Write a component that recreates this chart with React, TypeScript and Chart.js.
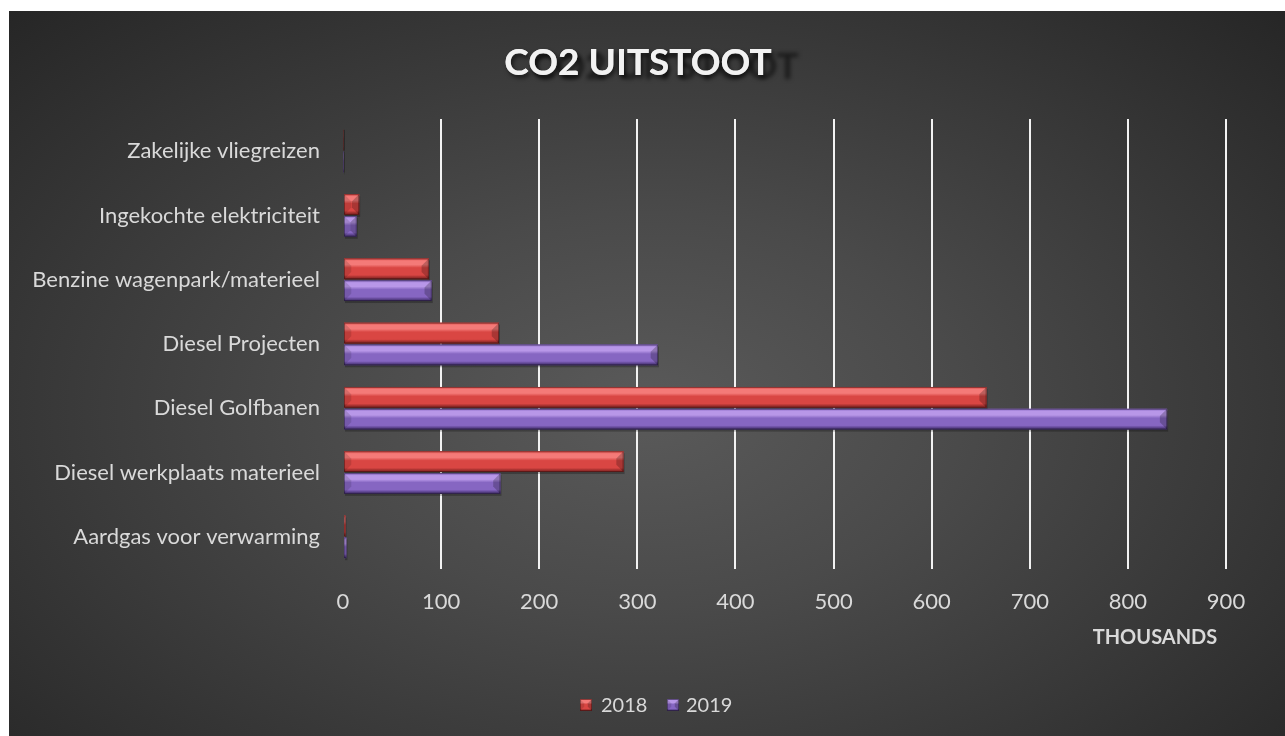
import React, { useEffect, useRef } from "react";
import { Chart, registerables } from "chart.js";

Chart.register(...registerables);

const categories = [
  "Zakelijke vliegreizen",
  "Ingekochte elektriciteit",
  "Benzine wagenpark/materieel",
  "Diesel Projecten",
  "Diesel Golfbanen",
  "Diesel werkplaats materieel",
  "Aardgas voor verwarming",
];
const values2018 = [0.8, 16.5, 87.5, 159, 656, 286, 2.5];
const values2019 = [0.6, 14, 90.5, 321, 840, 160.5, 3.5];
const seriesNames = ["2018", "2019"];
const xTicks = [0, 100, 200, 300, 400, 500, 600, 700, 800, 900];
const titleText = "CO2 UITSTOOT";
const unitText = "THOUSANDS";

const FONT = "Lato, 'Open Sans', sans-serif";
const LABEL = "#d9d9d9";

const palettes = [
  { hi: "#f47a78", mid: "#d94643", lo: "#a3302e", edge: "#7e2322" },
  { hi: "#b897e8", mid: "#8666c2", lo: "#5f4592", edge: "#3e2c62" },
];

function bevelRect(ctx: CanvasRenderingContext2D, x0: number, y0: number, w: number, h: number, p: any) {
  if (w <= 0 || h <= 0) return;
  const g = ctx.createLinearGradient(0, y0, 0, y0 + h);
  g.addColorStop(0, p.mid);
  g.addColorStop(0.12, p.hi);
  g.addColorStop(0.3, p.hi);
  g.addColorStop(0.45, p.mid);
  g.addColorStop(0.8, p.mid);
  g.addColorStop(0.9, p.lo);
  g.addColorStop(1, p.edge);
  ctx.fillStyle = g;
  ctx.fillRect(x0, y0, w, h);
  const b = Math.min(h * 0.35, w / 2);
  if (w > 4) {
    ctx.fillStyle = "rgba(0,0,0,0.22)";
    ctx.beginPath();
    ctx.moveTo(x0 + w, y0);
    ctx.lineTo(x0 + w - b, y0 + b);
    ctx.lineTo(x0 + w - b, y0 + h - b);
    ctx.lineTo(x0 + w, y0 + h);
    ctx.closePath();
    ctx.fill();
    ctx.fillStyle = "rgba(0,0,0,0.12)";
    ctx.beginPath();
    ctx.moveTo(x0, y0);
    ctx.lineTo(x0 + b, y0 + b);
    ctx.lineTo(x0 + b, y0 + h - b);
    ctx.lineTo(x0, y0 + h);
    ctx.closePath();
    ctx.fill();
  }
  ctx.strokeStyle = "rgba(0,0,0,0.35)";
  ctx.lineWidth = 1;
  ctx.strokeRect(x0 + 0.5, y0 + 0.5, w - 1, h - 1);
}

const decorPlugin = {
  id: "decor",
  afterDatasetsDraw(chart: any) {
    const ctx: CanvasRenderingContext2D = chart.ctx;
    ctx.save();
    chart.data.datasets.forEach((_: any, di: number) => {
      const meta = chart.getDatasetMeta(di);
      meta.data.forEach((el: any) => {
        const x0 = Math.min(el.base, el.x);
        const w = Math.abs(el.x - el.base);
        const y0 = el.y - el.height / 2;
        ctx.fillStyle = "rgba(0,0,0,0.25)";
        ctx.fillRect(x0 + 1, y0 + 2, w, el.height);
        bevelRect(ctx, x0, y0, w, el.height, palettes[di]);
      });
    });
    ctx.restore();
  },
  afterDraw(chart: any) {
    const ctx: CanvasRenderingContext2D = chart.ctx;
    ctx.save();
    ctx.font = `bold 37px ${FONT}`;
    ctx.textAlign = "center";
    ctx.textBaseline = "middle";
    ctx.shadowColor = "rgba(0,0,0,0.55)";
    ctx.shadowOffsetX = 27;
    ctx.shadowOffsetY = 4;
    ctx.shadowBlur = 4;
    ctx.fillStyle = "#f2f2f2";
    ctx.fillText(titleText, 629, 52);
    ctx.shadowColor = "rgba(0,0,0,0.6)";
    ctx.shadowOffsetX = 2;
    ctx.shadowOffsetY = 3;
    ctx.shadowBlur = 4;
    ctx.fillText(titleText, 629, 52);
    ctx.shadowColor = "transparent";
    ctx.font = `bold 20px ${FONT}`;
    ctx.fillStyle = LABEL;
    ctx.fillText(unitText, 1146, 627);
    ctx.font = `20px ${FONT}`;
    ctx.textAlign = "left";
    const items = [
      { bx: 571, tx: 592 },
      { bx: 658, tx: 677 },
    ];
    items.forEach((it, i) => {
      bevelRect(ctx, it.bx, 688, 12, 12, palettes[i]);
      ctx.fillStyle = LABEL;
      ctx.fillText(seriesNames[i], it.tx, 695);
    });
    ctx.restore();
  },
};

export default function App() {
  const ref = useRef<HTMLCanvasElement | null>(null);
  useEffect(() => {
    if (!ref.current) return;
    const chart = new Chart(ref.current, {
      type: "bar",
      data: {
        labels: categories,
        datasets: [
          { label: seriesNames[0], data: values2018, backgroundColor: palettes[0].mid, borderWidth: 0 },
          { label: seriesNames[1], data: values2019, backgroundColor: palettes[1].mid, borderWidth: 0 },
        ],
      },
      options: {
        indexAxis: "y",
        responsive: false,
        animation: false,
        maintainAspectRatio: false,
        layout: { padding: { left: 0, right: 59, top: 108, bottom: 0 } },
        datasets: { bar: { categoryPercentage: 0.68, barPercentage: 0.95 } },
        plugins: { legend: { display: false }, title: { display: false }, tooltip: { enabled: false } },
        scales: {
          x: {
            min: 0,
            max: 900,
            afterBuildTicks: (s: any) => {
              s.ticks = xTicks.map((v) => ({ value: v }));
            },
            afterFit: (s: any) => {
              s.height = 167;
            },
            border: { display: false },
            grid: {
              color: (c: any) => (c.tick && c.tick.value === 0 ? "rgba(0,0,0,0)" : "#f2f2f2"),
              lineWidth: 2,
              drawTicks: false,
            },
            ticks: { color: LABEL, font: { family: FONT, size: 22 }, padding: 20, maxRotation: 0 },
          },
          y: {
            afterFit: (s: any) => {
              s.width = 334;
            },
            border: { display: false },
            grid: { display: false, drawTicks: false },
            ticks: { color: LABEL, font: { family: FONT, size: 22 }, padding: 23 },
          },
        },
      },
      plugins: [decorPlugin],
    } as any);
    return () => chart.destroy();
  }, []);
  return (
    <div
      style={{
        position: "absolute",
        left: 9,
        top: 11,
        width: 1276,
        height: 725,
        background:
          "radial-gradient(ellipse farthest-corner at 50% 55%, #5a5a5a 0%, #4a4a4a 35%, #262626 100%)",
      }}
    >
      <canvas ref={ref} width={1276} height={725} style={{ display: "block" }} />
    </div>
  );
}
